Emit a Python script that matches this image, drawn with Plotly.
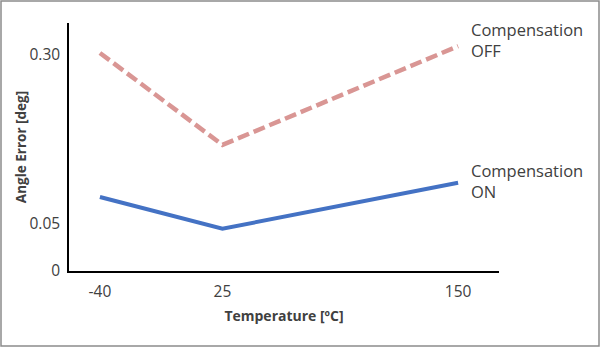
import plotly.graph_objects as go

temps = [-40, 25, 150]
err_off = [0.303, 0.167, 0.313]
err_on = [0.090, 0.043, 0.111]
x_ticks = [-40, 25, 150]
y_tick_labels = ["0", "0.05", "0.30"]
y_tick_vals = [-0.0195, 0.05, 0.30]

txt = "#404040"
fig = go.Figure()
fig.add_trace(go.Scatter(x=temps, y=err_off, mode="lines",
                         line=dict(color="#D99694", width=4.5, dash="12px,5px"),
                         showlegend=False))
fig.add_trace(go.Scatter(x=temps, y=err_on, mode="lines",
                         line=dict(color="#4472C4", width=4),
                         showlegend=False))

fig.add_annotation(x=155.8, y=0.322, xref="x", yref="y", text="Compensation<br>OFF",
                   showarrow=False, xanchor="left", yanchor="middle", align="left",
                   font=dict(family="Open Sans", size=16.5, color=txt))
fig.add_annotation(x=155.8, y=0.114, xref="x", yref="y", text="Compensation<br>ON",
                   showarrow=False, xanchor="left", yanchor="middle", align="left",
                   font=dict(family="Open Sans", size=16.5, color=txt))

L, R, T, B = 69, 101, 23, 76
pw, ph = 600 - L - R, 347 - T - B
fig.add_shape(type="rect", xref="paper", yref="paper",
              x0=(-L + 1) / pw, x1=(pw + R - 1) / pw,
              y0=(-B + 1) / ph, y1=(ph + T - 1) / ph,
              line=dict(color="#8c8c8c", width=1.5), fillcolor="rgba(0,0,0,0)", layer="below")

fig.update_layout(
    width=600, height=347,
    margin=dict(l=L, r=R, t=T, b=B),
    paper_bgcolor="white", plot_bgcolor="white",
    font=dict(family="Open Sans", size=15.5, color=txt),
    xaxis=dict(range=[-56.4, 171.7], tickvals=x_ticks, ticktext=[str(t) for t in x_ticks],
               showgrid=False, zeroline=False, showline=True, linecolor="black", linewidth=1.5,
               ticks="", ticklabelstandoff=6,
               title=dict(text="<b>Temperature [ºC]</b>", font=dict(size=14, color=txt), standoff=10)),
    yaxis=dict(range=[-0.0195, 0.3473], tickvals=y_tick_vals, ticktext=y_tick_labels,
               showgrid=False, zeroline=False, showline=True, linecolor="black", linewidth=1.5,
               ticks="", ticklabelstandoff=4,
               title=dict(text="<b>Angle Error [deg]</b>", font=dict(size=13.5, color=txt), standoff=0)),
)

fig.write_html("out.html")
